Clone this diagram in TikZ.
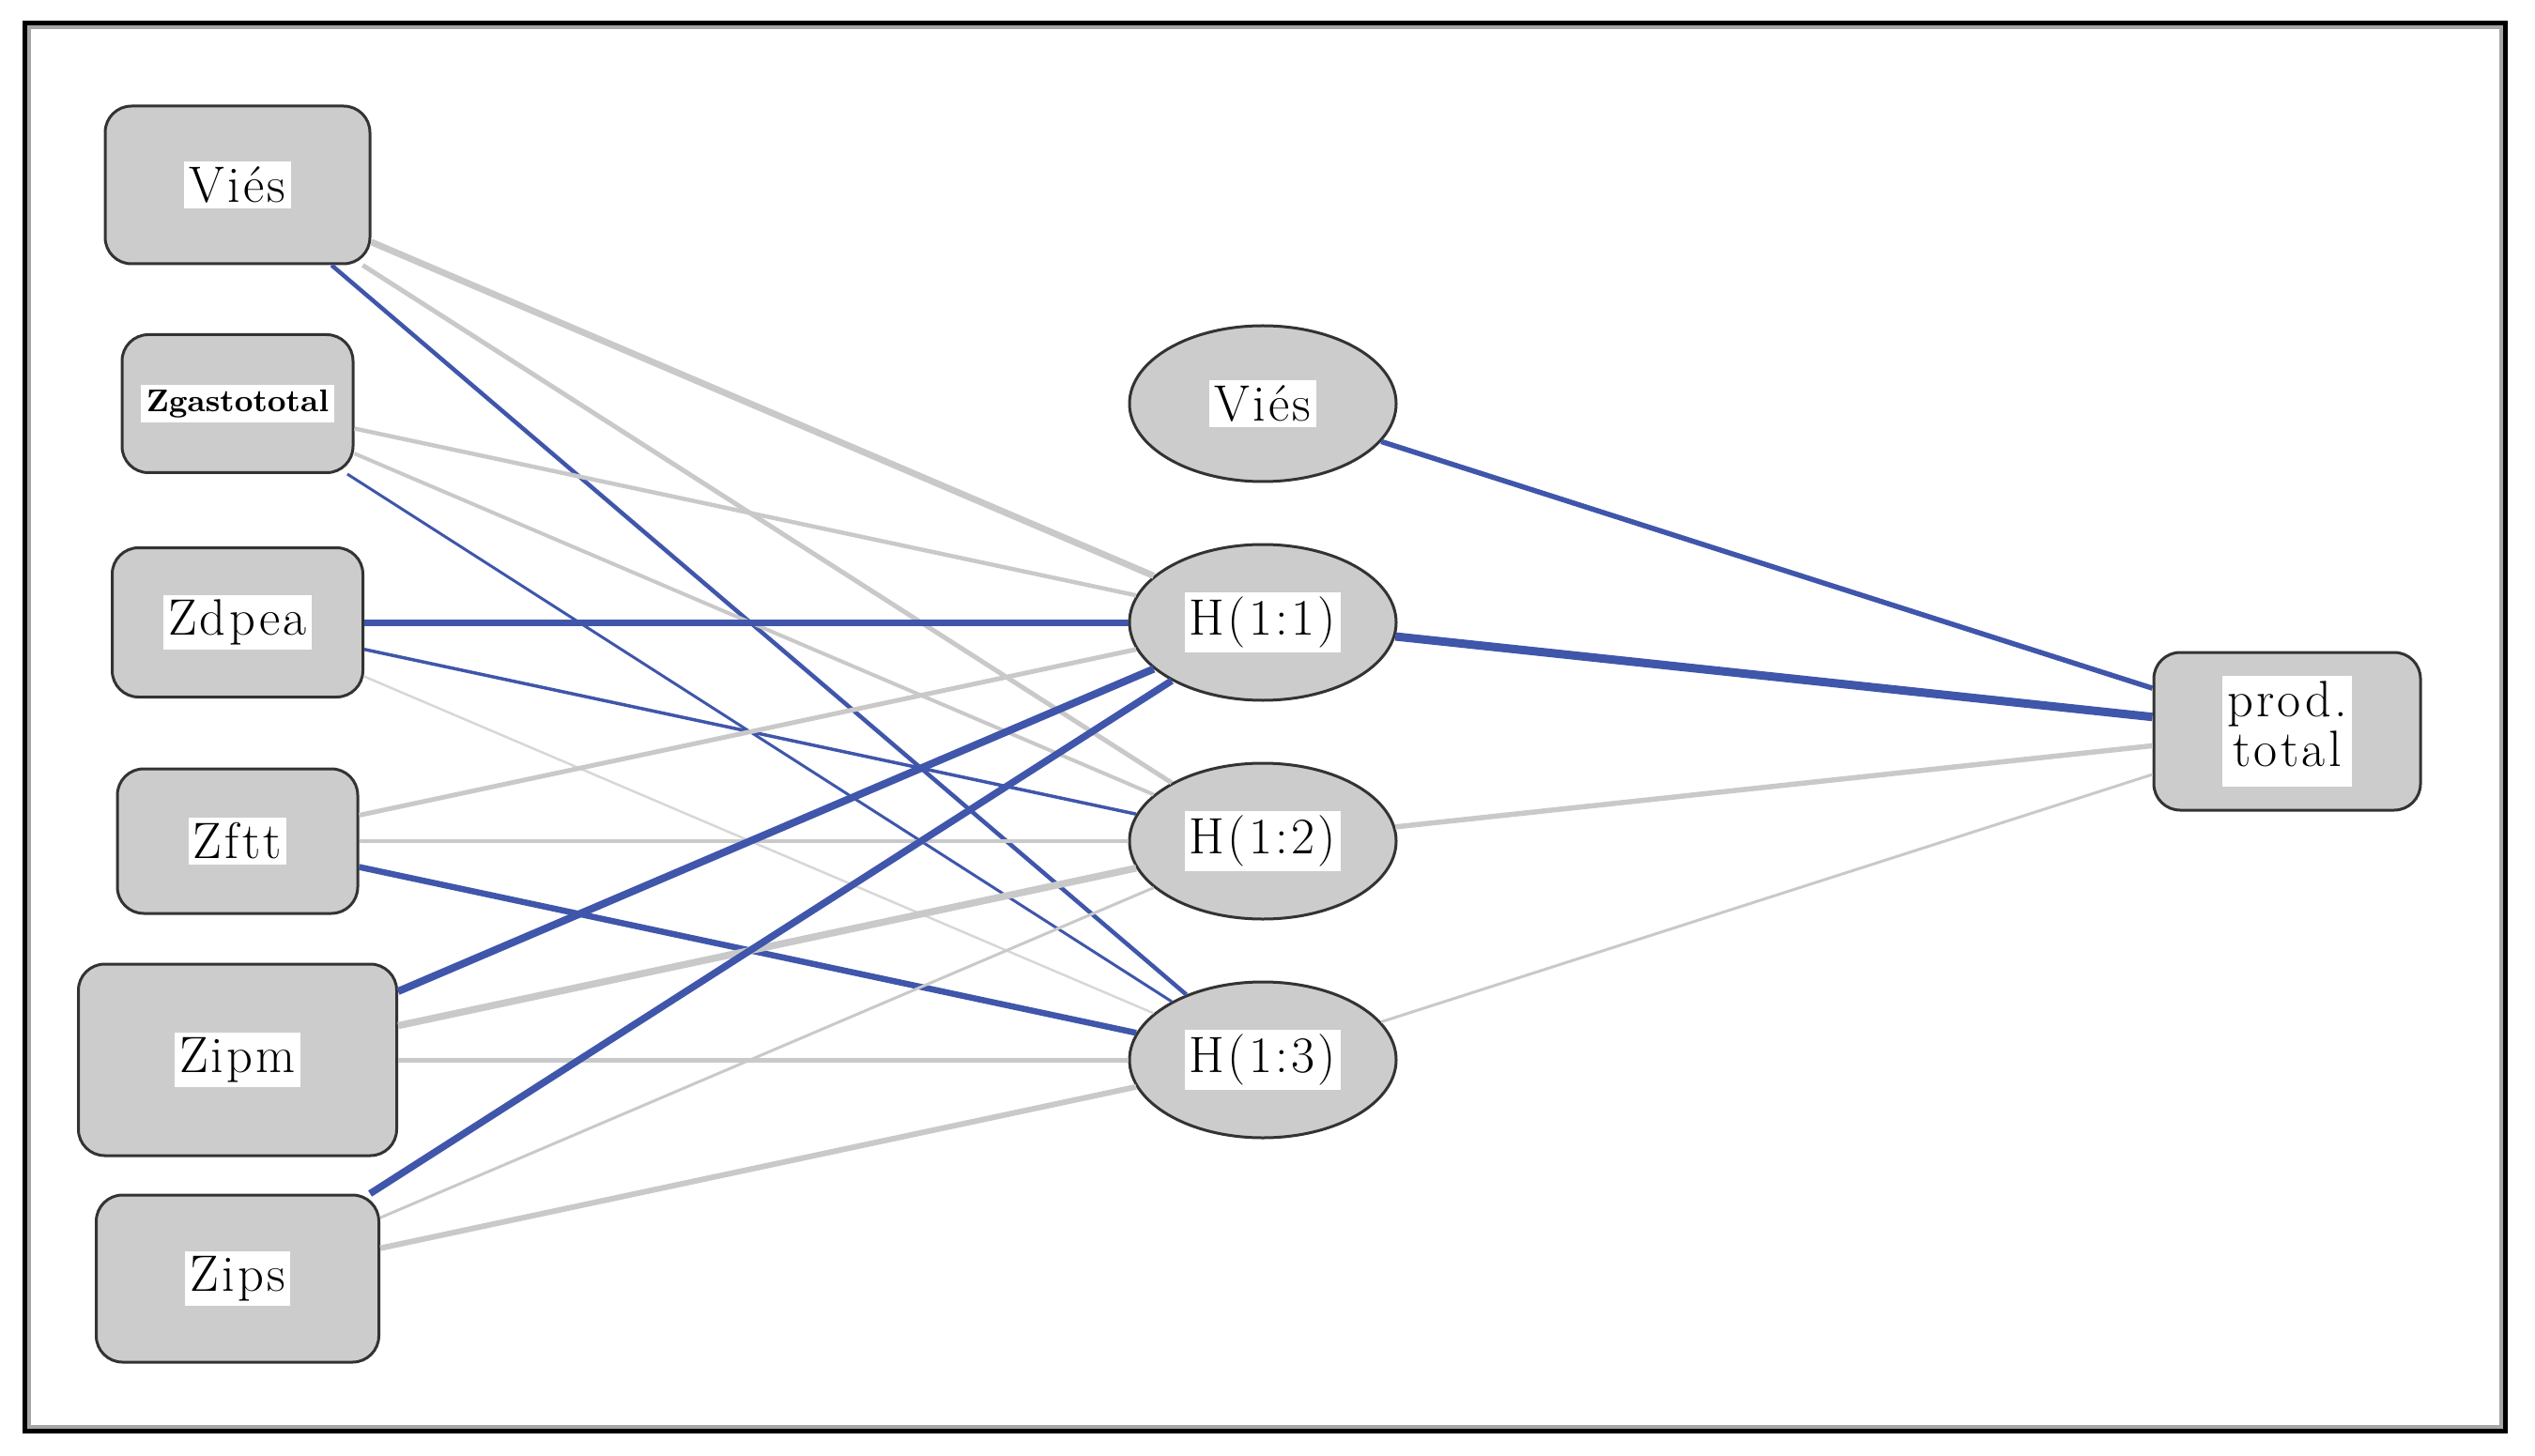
\documentclass[tikz,border=0pt]{standalone}
\usepackage{fontspec}
\setmainfont{Latin Modern Roman}
\usetikzlibrary{shapes.geometric}

\definecolor{wblue}{RGB}{63,86,171}
\definecolor{wgray}{RGB}{201,201,201}
\definecolor{boxgray}{RGB}{204,204,204}
\newcommand{\tagtext}[1]{{\setlength{\fboxsep}{1.5pt}\colorbox{white}{\addfontfeature{LetterSpace=6}#1}}}
\newcommand{\tagplain}[1]{{\setlength{\fboxsep}{1.5pt}\colorbox{white}{#1}}}

\tikzstyle{inbox} = [rectangle, rounded corners=0.28cm, inner sep=0pt, draw=black!80, line width=0.03cm, fill=boxgray, font=\fontsize{15.5}{15}\selectfont]
\tikzstyle{hidden} = [ellipse, minimum width=2.84cm, minimum height=1.66cm, inner sep=0pt, draw=black!80, line width=0.03cm, fill=boxgray, font=\fontsize{15.5}{15}\selectfont]
\tikzstyle{outbox} = [inbox, minimum width=2.84cm, minimum height=1.68cm]
\tikzstyle{wpos} = [draw=wblue]
\tikzstyle{wneg} = [draw=wgray]
\tikzstyle{wmax} = [line width=0.09cm]
\tikzstyle{wheavy} = [line width=0.075cm]
\tikzstyle{wmid} = [line width=0.05cm]
\tikzstyle{wfaint} = [line width=0.03cm]

\begin{document}
\begin{tikzpicture}[node distance=2.33cm]
    \useasboundingbox (0,0) rectangle (27,-15.51);
    \draw [line width=0.05cm] (0.265,-0.245) rectangle (26.685,-15.245);
    \draw [line width=0.035cm, gray!70] (0.31,-0.29) rectangle (26.64,-15.20);

    \node (in-vies) [inbox, minimum width=2.82cm, minimum height=1.68cm] at (2.53,-1.97) {\tagtext{Viés}};
    \node (in-zgasto) [inbox, below of=in-vies, minimum width=2.46cm, minimum height=1.47cm, font=\fontsize{9.5}{10}\bfseries] {\tagplain{Zgastototal}};
    \node (in-zdpea) [inbox, below of=in-zgasto, minimum width=2.67cm, minimum height=1.59cm] {\tagtext{Zdpea}};
    \node (in-zftt) [inbox, below of=in-zdpea, minimum width=2.56cm, minimum height=1.54cm] {\tagtext{Zftt}};
    \node (in-zipm) [inbox, below of=in-zftt, minimum width=3.39cm, minimum height=2.04cm] {\tagtext{Zipm}};
    \node (in-zips) [inbox, below of=in-zipm, minimum width=3.01cm, minimum height=1.78cm] {\tagtext{Zips}};

    \node (h-vies) [hidden, right of=in-zgasto, xshift=8.59cm] {\tagtext{Viés}};
    \node (h11) [hidden, below of=h-vies] {\tagtext{H(1:1)}};
    \node (h12) [hidden, below of=h11] {\tagtext{H(1:2)}};
    \node (h13) [hidden, below of=h12] {\tagtext{H(1:3)}};

    \node (out-prod) [outbox, right of=h11, xshift=8.58cm, yshift=-1.16cm] {\tagtext{\begin{tabular}{@{}c@{}}prod.\\ total\end{tabular}}};

    \draw [wneg, line width=0.07cm] (in-vies) -- (h11);
    \draw [wneg, wmid] (in-vies) -- (h12);
    \draw [wpos, line width=0.045cm] (in-vies) -- (h13);

    \draw [wneg, line width=0.045cm] (in-zgasto) -- (h11);
    \draw [wneg, line width=0.04cm] (in-zgasto) -- (h12);
    \draw [wpos, wfaint] (in-zgasto) -- (h13);

    \draw [wpos, line width=0.07cm] (in-zdpea) -- (h11);
    \draw [wpos, line width=0.035cm] (in-zdpea) -- (h12);
    \draw [wneg, line width=0.025cm, draw=wgray!75] (in-zdpea) -- (h13);

    \draw [wneg, wmid] (in-zftt) -- (h11);
    \draw [wneg, line width=0.035cm] (in-zftt) -- (h12);
    \draw [wpos, line width=0.065cm] (in-zftt) -- (h13);

    \draw [wpos, line width=0.08cm] (in-zipm) -- (h11);
    \draw [wneg, wheavy] (in-zipm) -- (h12);
    \draw [wneg, wmid] (in-zipm) -- (h13);

    \draw [wpos, wheavy] (in-zips) -- (h11);
    \draw [wneg, wfaint] (in-zips) -- (h12);
    \draw [wneg, line width=0.06cm] (in-zips) -- (h13);

    \draw [wpos, line width=0.055cm] (h-vies) -- (out-prod);
    \draw [wpos, wmax] (h11) -- (out-prod);
    \draw [wneg, line width=0.055cm] (h12) -- (out-prod);
    \draw [wneg, wfaint] (h13) -- (out-prod);
\end{tikzpicture}
\end{document}
